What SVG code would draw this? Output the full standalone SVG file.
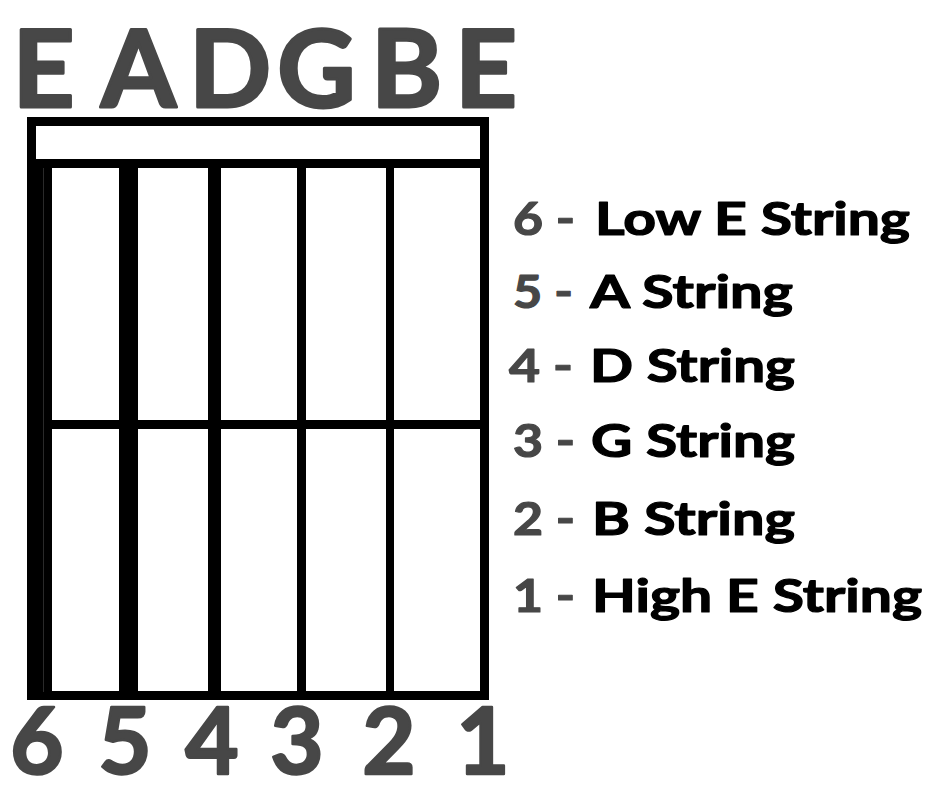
<svg xmlns="http://www.w3.org/2000/svg" width="940" height="788" viewBox="0 0 940 788">
<style>
.note{font-family:Lato,Roboto,"Liberation Sans",sans-serif;font-weight:700;fill:#474747;stroke:#474747;stroke-width:3;stroke-linejoin:round}
.digit{font-family:Lato,"Liberation Sans",sans-serif;font-weight:700;fill:#474747;stroke:#474747;stroke-width:2.5;stroke-linejoin:round}
.num{font-family:Lato,"Liberation Sans",sans-serif;font-weight:700;fill:#474747;font-size:45px;stroke:#474747;stroke-width:1.2;stroke-linejoin:round}
.name{font-family:Lato,"Liberation Sans",sans-serif;font-weight:700;fill:#000;font-size:45px;stroke:#000;stroke-width:1.2;stroke-linejoin:round}
.bar{fill:#000}
</style>
<rect width="940" height="788" fill="#fff"/>
<g id="tuning" class="note" font-size="108" text-anchor="middle">
<text x="43.5" y="107">E</text>
<text x="138.5" y="107">A</text>
<text x="230" y="107">D</text>
<text x="316.5" y="107">G</text>
<text x="406.5" y="107">B</text>
<text x="486" y="107">E</text>
</g>
<g id="fretboard">
<rect x="31.5" y="121.5" width="453" height="574" fill="none" stroke="#000" stroke-width="9"/>
<rect class="bar" x="27" y="159" width="462" height="9"/>
<rect class="bar" x="27" y="420" width="462" height="9"/>
<rect class="bar" x="27" y="163" width="25" height="537"/>
<rect x="43" y="168" width="1" height="524" fill="#2a2a2a"/>
<rect class="bar" x="119" y="163" width="19" height="537"/>
<rect class="bar" x="208" y="163" width="13" height="537"/>
<rect class="bar" x="297" y="163" width="9" height="537"/>
<rect class="bar" x="386" y="163" width="8" height="537"/>
</g>
<g id="string-numbers" class="digit" font-size="92" text-anchor="middle">
<text x="37" y="774">6</text>
<text x="125" y="774">5</text>
<text x="212" y="774">4</text>
<text x="297" y="774">3</text>
<text x="389" y="774">2</text>
<text x="483" y="774">1</text>
</g>
<g id="legend">
<text class="num" x="513" y="235" textLength="62" lengthAdjust="spacingAndGlyphs">6 -</text>
<text class="name" x="595" y="235" textLength="315" lengthAdjust="spacingAndGlyphs">Low E String</text>
<text class="num" x="513" y="308" textLength="60" lengthAdjust="spacingAndGlyphs">5 -</text>
<text class="name" x="590" y="308" textLength="203" lengthAdjust="spacingAndGlyphs">A String</text>
<text class="num" x="509" y="382" textLength="64" lengthAdjust="spacingAndGlyphs">4 -</text>
<text class="name" x="590" y="382" textLength="205" lengthAdjust="spacingAndGlyphs">D String</text>
<text class="num" x="513" y="457" textLength="62" lengthAdjust="spacingAndGlyphs">3 -</text>
<text class="name" x="591" y="457" textLength="204" lengthAdjust="spacingAndGlyphs">G String</text>
<text class="num" x="513" y="535" textLength="62" lengthAdjust="spacingAndGlyphs">2 -</text>
<text class="name" x="592" y="535" textLength="203" lengthAdjust="spacingAndGlyphs">B String</text>
<text class="num" x="513" y="612" textLength="62" lengthAdjust="spacingAndGlyphs">1 -</text>
<text class="name" x="592" y="612" textLength="330" lengthAdjust="spacingAndGlyphs">High E String</text>
</g>
</svg>
